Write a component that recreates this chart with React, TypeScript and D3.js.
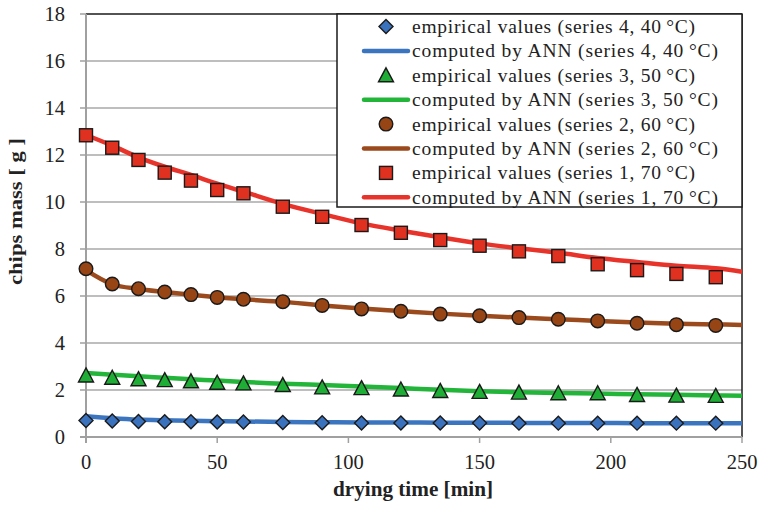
import React from "react";
import * as d3 from "d3";

const W = 762;
const H = 506;

const timesEmp = [0, 10, 20, 30, 40, 50, 60, 75, 90, 105, 120, 135, 150, 165, 180, 195, 210, 225, 240];
const timesAnn = [0, 10, 20, 30, 40, 50, 60, 75, 90, 105, 120, 135, 150, 165, 180, 195, 210, 225, 240, 250];

const emp1 = [12.84, 12.31, 11.79, 11.25, 10.91, 10.51, 10.37, 9.8, 9.37, 9.02, 8.69, 8.38, 8.14, 7.9, 7.7, 7.35, 7.1, 6.94, 6.8];
const ann1 = [12.85, 12.4, 11.9, 11.5, 11.15, 10.78, 10.44, 9.92, 9.49, 9.09, 8.78, 8.5, 8.24, 8.03, 7.84, 7.62, 7.45, 7.29, 7.18, 7.03];

const emp2 = [7.16, 6.51, 6.31, 6.17, 6.06, 5.94, 5.86, 5.76, 5.6, 5.45, 5.35, 5.23, 5.16, 5.08, 5.01, 4.94, 4.84, 4.78, 4.75];
const ann2 = [7.1, 6.5, 6.3, 6.17, 6.05, 5.95, 5.86, 5.75, 5.6, 5.47, 5.36, 5.25, 5.16, 5.08, 5.01, 4.94, 4.87, 4.82, 4.79, 4.77];

const emp3 = [2.62, 2.52, 2.46, 2.42, 2.37, 2.31, 2.28, 2.21, 2.11, 2.08, 2.02, 1.96, 1.92, 1.89, 1.86, 1.86, 1.79, 1.76, 1.75];
const ann3 = [2.72, 2.65, 2.58, 2.52, 2.46, 2.4, 2.34, 2.27, 2.21, 2.15, 2.08, 2.01, 1.95, 1.9, 1.87, 1.85, 1.82, 1.8, 1.77, 1.76];

const emp4 = [0.7, 0.68, 0.66, 0.65, 0.65, 0.64, 0.64, 0.62, 0.61, 0.6, 0.6, 0.6, 0.6, 0.59, 0.59, 0.59, 0.59, 0.59, 0.59];
const ann4 = [0.88, 0.8, 0.74, 0.71, 0.69, 0.67, 0.66, 0.64, 0.63, 0.62, 0.62, 0.61, 0.61, 0.6, 0.6, 0.6, 0.59, 0.59, 0.59, 0.59];

const xTicks = [0, 50, 100, 150, 200, 250];
const yTicks = [0, 2, 4, 6, 8, 10, 12, 14, 16, 18];

const legendLabels = [
  "empirical values (series 4, 40\u2009°C)",
  "computed by ANN (series 4, 40\u2009°C)",
  "empirical values (series 3, 50\u2009°C)",
  "computed by ANN (series 3, 50\u2009°C)",
  "empirical values (series 2, 60\u2009°C)",
  "computed by ANN (series 2, 60\u2009°C)",
  "empirical values (series 1, 70\u2009°C)",
  "computed by ANN (series 1, 70\u2009°C)",
];

type Shape = "diamond" | "triangle" | "circle" | "square";

const series = [
  { emp: emp4, ann: ann4, line: "#3b75c0", fill: "#3b72bd", shape: "diamond" as Shape },
  { emp: emp3, ann: ann3, line: "#22b53a", fill: "#1fae35", shape: "triangle" as Shape },
  { emp: emp2, ann: ann2, line: "#9a4a1c", fill: "#984515", shape: "circle" as Shape },
  { emp: emp1, ann: ann1, line: "#e8332a", fill: "#e0301f", shape: "square" as Shape },
];

function Marker({ shape, x, y, fill }: { shape: Shape; x: number; y: number; fill: string }) {
  const st = { fill, stroke: "#1a1a1a", strokeWidth: 1.4 };
  if (shape === "square") return <rect x={x - 6.5} y={y - 6.5} width={13} height={13} {...st} />;
  if (shape === "circle") return <circle cx={x} cy={y} r={6.8} {...st} />;
  if (shape === "triangle")
    return <path d={`M${x},${y - 7.5} L${x + 7.5},${y + 6.5} L${x - 7.5},${y + 6.5} Z`} {...st} />;
  return <path d={`M${x},${y - 7} L${x + 7},${y} L${x},${y + 7} L${x - 7},${y} Z`} {...st} />;
}

export default function App() {
  const x = d3.scaleLinear().domain([0, 250]).range([86, 742]);
  const y = d3.scaleLinear().domain([0, 18]).range([437, 14]);
  const line = d3
    .line<[number, number]>()
    .x((d) => x(d[0]))
    .y((d) => y(d[1]))
    .curve(d3.curveCatmullRom.alpha(0.5));

  const legX = 337;
  const legY = 14;
  const legW = 405;
  const legH = 193;
  const rowH = 24.4;

  return (
    <div style={{ position: "absolute", left: 0, top: 0 }}>
      <svg width={W} height={H} style={{ display: "block", background: "#fff" }} fontFamily="Liberation Serif">
        {yTicks.slice(1, -1).map((t) => (
          <line key={t} x1={x(0)} x2={x(250)} y1={y(t)} y2={y(t)} stroke="#a9a9a9" strokeWidth={1.5} />
        ))}
        <line x1={x(0)} x2={x(250)} y1={y(18)} y2={y(18)} stroke="#1a1a1a" strokeWidth={1.5} />
        <line x1={x(250)} x2={x(250)} y1={y(18)} y2={y(0)} stroke="#1a1a1a" strokeWidth={1.5} />
        <line x1={x(0)} x2={x(0)} y1={y(18)} y2={y(0) + 6} stroke="#a0a0a0" strokeWidth={2} />
        <line x1={x(0) - 6} x2={x(250)} y1={y(0)} y2={y(0)} stroke="#a0a0a0" strokeWidth={2} />
        {yTicks.map((t) => (
          <line key={t} x1={x(0) - 6} x2={x(0)} y1={y(t)} y2={y(t)} stroke="#a0a0a0" strokeWidth={1.5} />
        ))}
        {xTicks.map((t) => (
          <line key={t} x1={x(t)} x2={x(t)} y1={y(0)} y2={y(0) + 6} stroke="#a0a0a0" strokeWidth={1.5} />
        ))}
        {yTicks.map((t) => (
          <text key={t} x={65} y={y(t)} dy="0.35em" textAnchor="end" fontFamily="Liberation Serif" fontSize={20.5} fill="#222">
            {t}
          </text>
        ))}
        {xTicks.map((t) => (
          <text key={t} x={x(t)} y={469} textAnchor="middle" fontFamily="Liberation Serif" fontSize={20.5} fill="#222">
            {t}
          </text>
        ))}
        <text
          x={333}
          y={496}
          fontFamily="Liberation Serif"
          fontWeight="bold"
          fontSize={20.5}
          fill="#222"
          textLength={160}
          lengthAdjust="spacingAndGlyphs"
        >
          drying time [min]
        </text>
        <text
          transform={`translate(22,285) rotate(-90)`}
          fontFamily="Liberation Serif"
          fontWeight="bold"
          fontSize={19.5}
          fill="#222"
          textLength={147}
          lengthAdjust="spacingAndGlyphs"
        >
          chips mass [ g ]
        </text>
        {series.map((s, i) => (
          <g key={i}>
            <path
              d={line(timesAnn.map((t, j) => [t, s.ann[j]] as [number, number])) || ""}
              fill="none"
              stroke={s.line}
              strokeWidth={4.5}
            />
            {timesEmp.map((t, j) => (
              <Marker key={j} shape={s.shape} x={x(t)} y={y(s.emp[j])} fill={s.fill} />
            ))}
          </g>
        ))}
        <rect x={legX} y={legY} width={legW} height={legH} fill="#fff" stroke="#1a1a1a" strokeWidth={1.5} />
        {legendLabels.map((lab, i) => {
          const s = series[Math.floor(i / 2)];
          const cy = legY + 12.5 + i * rowH;
          const isLine = i % 2 === 1;
          return (
            <g key={i}>
              {isLine ? (
                <line x1={364} x2={408} y1={cy} y2={cy} stroke={s.line} strokeWidth={4.5} strokeLinecap="round" />
              ) : (
                <Marker shape={s.shape} x={386} y={cy} fill={s.fill} />
              )}
              <text
                x={412}
                y={cy}
                dy="0.33em"
                fontFamily="Liberation Serif"
                fontSize={19.5}
                fill="#222"
                textLength={isLine ? 306 : 283}
                lengthAdjust="spacing"
              >
                {lab}
              </text>
            </g>
          );
        })}
      </svg>
    </div>
  );
}
